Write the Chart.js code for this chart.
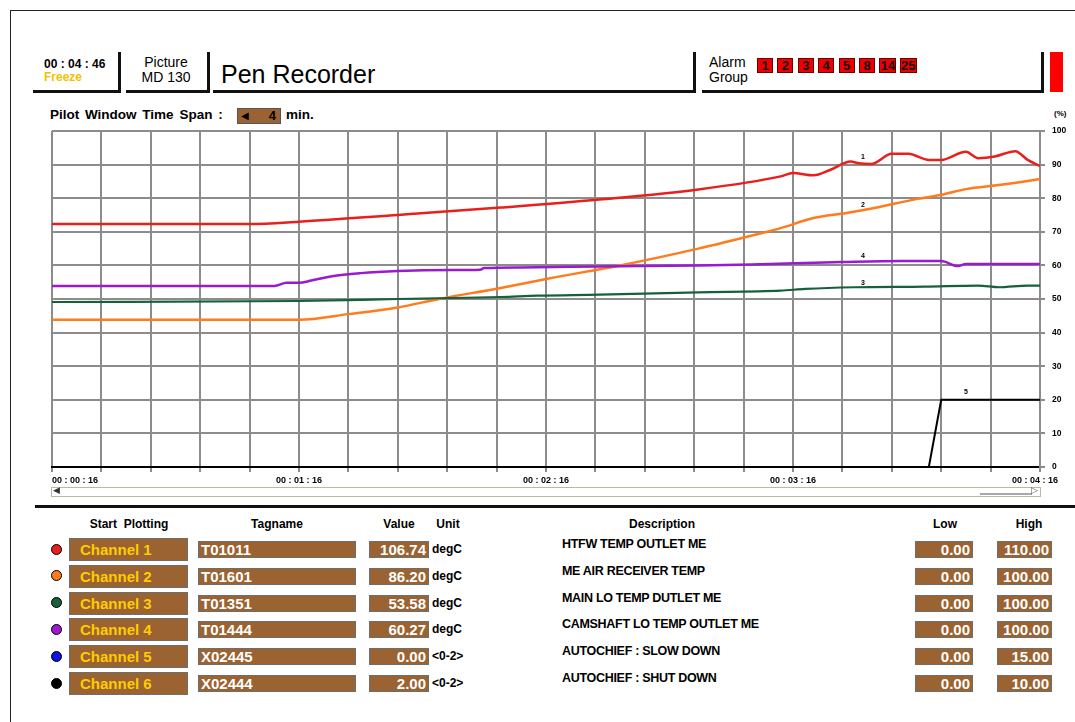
<!DOCTYPE html>
<html>
<head>
<meta charset="utf-8">
<script src="https://cdn.jsdelivr.net/npm/chart.js@4.4.1/dist/chart.umd.min.js"></script>
<style>
  body { margin: 0; background: #fff; font-family: "Liberation Sans", Arial, sans-serif; }
  #page { position: relative; width: 1075px; height: 722px; overflow: hidden; background: #fff; }
  .abs { position: absolute; }
  .hbox { position: absolute; border-right: 3px solid #111; border-bottom: 3px solid #111; box-sizing: border-box; }
  .brown { position: absolute; background: #9a6331; border: 1px solid #6e6e6e; box-sizing: border-box;
           color: #fff; font-weight: bold; font-size: 15px; line-height: 15px; white-space: nowrap; overflow: hidden; }
  .th { position: absolute; font-weight: bold; font-size: 12px; transform: translateX(-50%); white-space: nowrap; }
  .alarm { position: absolute; top: 58px; height: 15px; background: #ee0000; border: 1px solid #600;
           box-sizing: border-box; font-weight: bold; font-size: 13px; line-height: 13px; text-align: center; color: #111; }
</style>
</head>
<body>
<div id="page">
  <!-- cadre -->
  <div class="abs" style="left:10px;top:10px;width:1065px;height:1px;background:#222"></div>
  <div class="abs" style="left:10px;top:10px;width:1px;height:712px;background:#222"></div>

  <!-- en-tête -->
  <div class="hbox" style="left:33px;top:52px;width:88px;height:41px">
    <div class="abs" style="left:11px;top:5px;font-weight:bold;font-size:12px">00 : 04 : 46</div>
    <div class="abs" style="left:11px;top:18px;font-weight:bold;font-size:12px;color:#f5c000">Freeze</div>
  </div>
  <div class="hbox" style="left:126px;top:52px;width:84px;height:41px">
    <div class="abs" style="left:0;width:80px;top:3px;font-size:14px;text-align:center;line-height:15px">Picture<br>MD 130</div>
  </div>
  <div class="hbox" style="left:213px;top:52px;width:483px;height:41px">
    <div class="abs" style="left:8px;top:8px;font-size:25px">Pen Recorder</div>
  </div>
  <div class="hbox" style="left:702px;top:52px;width:342px;height:41px">
    <div class="abs" style="left:7px;top:3px;font-size:14px;line-height:15px">Alarm<br>Group</div>
  </div>
  <div id="alarms"></div>
  <div class="abs" style="left:1050px;top:52px;width:13px;height:40px;background:#ff0000"></div>

  <!-- fenêtre pilote -->
  <div class="abs" style="left:50px;top:107px;font-weight:bold;font-size:13.5px;word-spacing:2px">Pilot Window Time Span :</div>
  <div class="abs" style="left:237px;top:108px;width:44px;height:16px;background:#9a6331;border:1px solid #555;box-sizing:border-box">
    <div class="abs" style="left:3px;top:0px;font-size:10px;line-height:14px">&#9664;</div>
    <div class="abs" style="right:4px;top:0px;font-weight:bold;font-size:13px;line-height:14px">4</div>
  </div>
  <div class="abs" style="left:286px;top:107px;font-weight:bold;font-size:13.5px">min.</div>
  <div class="abs" style="left:1054px;top:109px;font-weight:bold;font-size:8px">(%)</div>

  <canvas id="pen" class="abs" style="left:0;top:100px;width:1075px;height:400px" width="1075" height="400"></canvas>

  <!-- barre de défilement -->
  <div class="abs" style="left:51px;top:487px;width:990px;height:10px;border:1px solid #b9b9a3;box-sizing:border-box;background:#fff"></div>
  <div class="abs" style="left:53px;top:485px;font-size:9px;color:#333">&#9664;</div>
  <div class="abs" style="left:980px;top:493px;width:52px;height:2px;background:#a8a8a8"></div>
  <div class="abs" style="left:1031px;top:485px;font-size:9px;color:#555">&#9655;</div>

  <div class="abs" style="left:35px;top:505px;width:1040px;height:3px;background:#111"></div>

  <!-- tableau -->
  <div class="th" style="left:129px;top:517px">Start&nbsp; Plotting</div>
  <div class="th" style="left:277px;top:517px">Tagname</div>
  <div class="th" style="left:399px;top:517px">Value</div>
  <div class="th" style="left:448px;top:517px">Unit</div>
  <div class="th" style="left:662px;top:517px">Description</div>
  <div class="th" style="left:945px;top:517px">Low</div>
  <div class="th" style="left:1029px;top:517px">High</div>
  <div id="rows"></div>
</div>

<script>
// --- données ---
const alarmGroups = ['1', '2', '3', '4', '5', '8', '14', '25'];

const channelNames = ['Channel 1', 'Channel 2', 'Channel 3', 'Channel 4', 'Channel 5', 'Channel 6'];
const channelColors = ['#e8201c', '#ff7b1c', '#17603c', '#9b19d1', '#1010e8', '#000000'];
const tagnames = ['T01011', 'T01601', 'T01351', 'T01444', 'X02445', 'X02444'];
const values = ['106.74', '86.20', '53.58', '60.27', '0.00', '2.00'];
const units = ['degC', 'degC', 'degC', 'degC', '<0-2>', '<0-2>'];
const descriptions = ['HTFW TEMP OUTLET ME', 'ME AIR RECEIVER TEMP', 'MAIN LO TEMP DUTLET ME',
  'CAMSHAFT LO TEMP OUTLET ME', 'AUTOCHIEF : SLOW DOWN', 'AUTOCHIEF : SHUT DOWN'];
const lows = ['0.00', '0.00', '0.00', '0.00', '0.00', '0.00'];
const highs = ['110.00', '100.00', '100.00', '100.00', '15.00', '10.00'];

// temps en secondes (00:00:16 -> 00:04:16), valeurs en %
const ch1Time = [16, 64, 76, 100, 125, 149, 173, 193, 196, 201, 205, 210, 212, 215, 220, 224, 229, 232, 238, 241, 245, 250, 253, 256];
const ch1Value = [72.3, 72.3, 73.0, 75.0, 77.2, 79.6, 82.6, 86.5, 87.5, 86.8, 88.4, 90.9, 90.4, 90.2, 93.2, 93.2, 91.4, 91.4, 93.8, 91.9, 92.4, 94.0, 91.4, 89.6];
const ch2Time = [16, 76, 88, 100, 110, 125, 137, 154, 173, 188, 193, 201, 209, 217, 225, 232, 238, 246, 253, 256];
const ch2Value = [43.8, 43.8, 45.5, 47.5, 50.0, 53.3, 56.2, 60.0, 65.0, 69.5, 71.1, 74.1, 75.6, 77.4, 79.5, 81.0, 82.7, 83.9, 85.1, 85.7];
const ch3Time = [16, 76, 100, 113, 125, 134, 149, 173, 193, 199, 211, 228, 241, 246, 253, 256];
const ch3Value = [49.1, 49.4, 50.0, 50.3, 50.6, 51.0, 51.3, 52.0, 52.5, 53.0, 53.5, 53.7, 54.0, 53.5, 54.0, 54.0];
const ch4Time = [16, 70, 73, 76, 79, 84, 91, 100, 113, 120, 121, 130, 149, 173, 186, 208, 222, 232, 236, 238, 256];
const ch4Value = [53.9, 53.9, 54.8, 54.8, 55.5, 56.8, 57.7, 58.3, 58.6, 58.7, 59.2, 59.4, 59.7, 60.0, 60.3, 61.0, 61.3, 61.3, 59.8, 60.4, 60.4];
const ch6Time = [16, 229, 232, 256];
const ch6Value = [0, 0, 20, 20];

// étiquettes des plumes : numéro, temps, valeur
const penLabels = ['1', '2', '4', '3', '5'];
const penLabelTime = [213, 213, 213, 213, 238];
const penLabelValue = [92.3, 78.0, 62.8, 54.8, 22.3];

const timeMin = 16, timeMax = 256, gridStep = 12, labelStep = 60;

// --- en-tête alarmes ---
const alarmsEl = document.getElementById('alarms');
alarmGroups.forEach((a, i) => {
  const d = document.createElement('div');
  d.className = 'alarm';
  d.style.left = (757 + i * 20.4) + 'px';
  d.style.width = (a.length > 1 ? 17 : 16) + 'px';
  d.textContent = a;
  alarmsEl.appendChild(d);
});

// --- tableau des canaux ---
const rowsEl = document.getElementById('rows');
function box(left, top, w, h, text, style) {
  const d = document.createElement('div');
  d.className = 'brown';
  Object.assign(d.style, { left: left + 'px', top: top + 'px', width: w + 'px', height: h + 'px' }, style || {});
  d.textContent = text;
  rowsEl.appendChild(d);
  return d;
}
function label(left, top, text, style) {
  const d = document.createElement('div');
  d.className = 'abs';
  Object.assign(d.style, { left: left + 'px', top: top + 'px', whiteSpace: 'nowrap' }, style || {});
  d.textContent = text;
  rowsEl.appendChild(d);
}
channelNames.forEach((name, i) => {
  const top = 538 + i * 26.8;
  const dot = document.createElement('div');
  Object.assign(dot.style, { position: 'absolute', left: '51px', top: (top + 5.5) + 'px', width: '11px', height: '11px',
    borderRadius: '50%', background: channelColors[i], border: '1.5px solid #000', boxSizing: 'border-box' });
  rowsEl.appendChild(dot);
  box(69, top, 119, 23, name, { color: '#ffcc00', paddingLeft: '10px', lineHeight: '21px' });
  box(198, top + 3, 158, 17, tagnames[i], { paddingLeft: '2px' });
  box(369, top + 3, 60, 17, values[i], { textAlign: 'right', paddingRight: '2px' });
  label(432, top + 4, units[i], { fontWeight: 'bold', fontSize: '12px' });
  label(562, top - 1, descriptions[i], { fontWeight: 'bold', fontSize: '12.5px', letterSpacing: '-0.3px' });
  box(915, top + 3, 58, 17, lows[i], { textAlign: 'right', paddingRight: '2px' });
  box(997, top + 3, 55, 17, highs[i], { textAlign: 'right', paddingRight: '2px' });
});

// --- graphique ---
const zip = (ts, vs) => ts.map((t, i) => ({ x: t, y: vs[i] }));
const fmtTime = s => {
  const m = Math.floor(s / 60), sec = s % 60;
  return '00 : ' + String(m).padStart(2, '0') + ' : ' + String(sec).padStart(2, '0');
};

const penLabelPlugin = {
  id: 'penLabels',
  afterDatasetsDraw(chart) {
    const { ctx, scales: { x, y } } = chart;
    ctx.save();
    ctx.font = 'bold 7px "Liberation Sans", Arial, sans-serif';
    ctx.fillStyle = '#000';
    ctx.textAlign = 'center';
    ctx.textBaseline = 'middle';
    penLabels.forEach((t, i) => ctx.fillText(t, x.getPixelForValue(penLabelTime[i]), y.getPixelForValue(penLabelValue[i])));
    ctx.restore();
  }
};

// étiquettes de temps: la première alignée à gauche, comme sur l'écran d'origine
const timeLabelPlugin = {
  id: 'timeLabels',
  afterDraw(chart) {
    const { ctx, scales: { x } } = chart;
    ctx.save();
    ctx.font = 'bold 9px "Liberation Sans", Arial, sans-serif';
    ctx.fillStyle = '#000';
    ctx.textBaseline = 'middle';
    const yPix = x.bottom - 19;
    x.ticks.forEach(tk => {
      if ((tk.value - timeMin) % labelStep !== 0) return;
      const txt = fmtTime(tk.value);
      const px = x.getPixelForValue(tk.value);
      const w = ctx.measureText(txt).width;
      let left = px - w / 2;
      if (tk.value === timeMin) left = px;
      if (left + w > chart.width - 17) left = chart.width - 17 - w;
      ctx.textAlign = 'left';
      ctx.fillText(txt, left, yPix);
    });
    ctx.restore();
  }
};

const lineDs = (label, data, color, width, smooth) => ({
  label, data, borderColor: color, borderWidth: width, pointRadius: 0,
  cubicInterpolationMode: smooth ? 'monotone' : 'default', tension: 0, fill: false
});

new Chart(document.getElementById('pen'), {
  type: 'line',
  data: {
    datasets: [
      lineDs('Channel 6', zip(ch6Time, ch6Value), '#000000', 2, false),
      lineDs('Channel 3', zip(ch3Time, ch3Value), '#17603c', 2.2, true),
      lineDs('Channel 4', zip(ch4Time, ch4Value), '#9b19d1', 2.5, true),
      lineDs('Channel 2', zip(ch2Time, ch2Value), '#ff7b1c', 2.5, true),
      lineDs('Channel 1', zip(ch1Time, ch1Value), '#e8201c', 2.5, true)
    ]
  },
  options: {
    responsive: false,
    animation: false,
    parsing: false,
    layout: { padding: { left: 52, top: 31, right: 0, bottom: 0 } },
    plugins: { legend: { display: false }, tooltip: { enabled: false } },
    scales: {
      x: {
        type: 'linear', min: timeMin, max: timeMax, position: 'bottom',
        ticks: { stepSize: gridStep, display: false, autoSkip: false },
        grid: { color: '#8c8c8c', lineWidth: 2, tickLength: 5, tickColor: '#8c8c8c' },
        border: { color: '#000', width: 2 },
        afterFit: s => { s.height = 33; }
      },
      y: {
        position: 'right', min: 0, max: 100,
        ticks: { stepSize: 10, color: '#000', padding: 7, font: { family: '"Liberation Sans", Arial, sans-serif', size: 8.5, weight: 'bold' } },
        grid: { color: '#8c8c8c', lineWidth: 2, tickLength: 5, tickColor: '#8c8c8c' },
        border: { color: '#8c8c8c', width: 2 },
        afterFit: s => { s.width = 35; }
      }
    }
  },
  plugins: [penLabelPlugin, timeLabelPlugin]
});
</script>
</body>
</html>
